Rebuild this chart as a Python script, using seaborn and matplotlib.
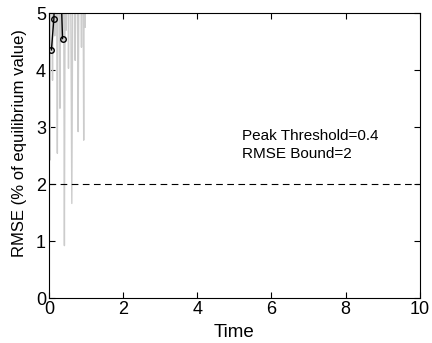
import numpy as np
import pandas as pd
import matplotlib
matplotlib.use("Agg")
import matplotlib.pyplot as plt
import seaborn as sns

# gray trace: spikes down from off-scale values
gray_t = [0.0, 0.03, 0.06, 0.10, 0.13, 0.16, 0.19, 0.23, 0.26, 0.30, 0.33,
          0.36, 0.39, 0.42, 0.45, 0.47, 0.50, 0.53, 0.57, 0.62, 0.66, 0.71,
          0.75, 0.79, 0.83, 0.88, 0.91, 0.94, 0.96, 0.98, 1.0]
gray_v = [8.0, 2.42, 8.0, 3.82, 8.0, 4.6, 8.0, 2.54, 8.0, 3.33, 8.0,
          4.5, 8.0, 0.92, 8.0, 4.7, 8.0, 4.03, 8.0, 1.66, 8.0, 4.17,
          8.0, 2.92, 8.0, 4.4, 8.0, 2.77, 8.0, 4.75, 8.0]

# black trace with markers
black_t = [0.07, 0.135, 0.25, 0.37]
black_v = [4.35, 4.89, 7.0, 4.55]

peak_threshold = 0.4
rmse_bound = 2

sns.set_style("ticks", {"axes.edgecolor": "black", "xtick.color": "black",
                        "ytick.color": "black", "text.color": "black",
                        "axes.labelcolor": "black"})
plt.rcParams['font.family'] = ['Liberation Sans', 'DejaVu Sans']

fig = plt.figure(figsize=(4.32, 3.43), dpi=100)
ax = fig.add_axes([0.113, 0.131, 0.859, 0.831])

sns.lineplot(x=gray_t, y=gray_v, ax=ax, color='#cccccc', lw=1, sort=False)
sns.lineplot(x=black_t, y=black_v, ax=ax, color='black', lw=1, sort=False,
             marker='o', markersize=4, markerfacecolor='none',
             markeredgecolor='black', markeredgewidth=1)
ax.axhline(rmse_bound, color='black', lw=0.8, ls=(0, (6, 4)))

ax.text(5.2, 2.77, 'Peak Threshold=%g' % peak_threshold, fontsize=11)
ax.text(5.2, 2.45, 'RMSE Bound=%g' % rmse_bound, fontsize=11)

ax.set_xlim(0, 10)
ax.set_ylim(0, 5)
ax.set_xticks([0, 2, 4, 6, 8, 10])
ax.set_yticks([0, 1, 2, 3, 4, 5])
ax.tick_params(direction='in', top=True, right=True, labelsize=13, length=4,
               width=0.8, pad=2)
for s in ax.spines.values():
    s.set_linewidth(0.8)
ax.set_xlabel('Time', fontsize=13.5)
ax.set_ylabel('RMSE (% of equilibrium value)', fontsize=12)
ax.xaxis.set_label_coords(0.5, -0.09)
ax.yaxis.set_label_coords(-0.06, 0.544)

fig.savefig('out.png', dpi=100)
